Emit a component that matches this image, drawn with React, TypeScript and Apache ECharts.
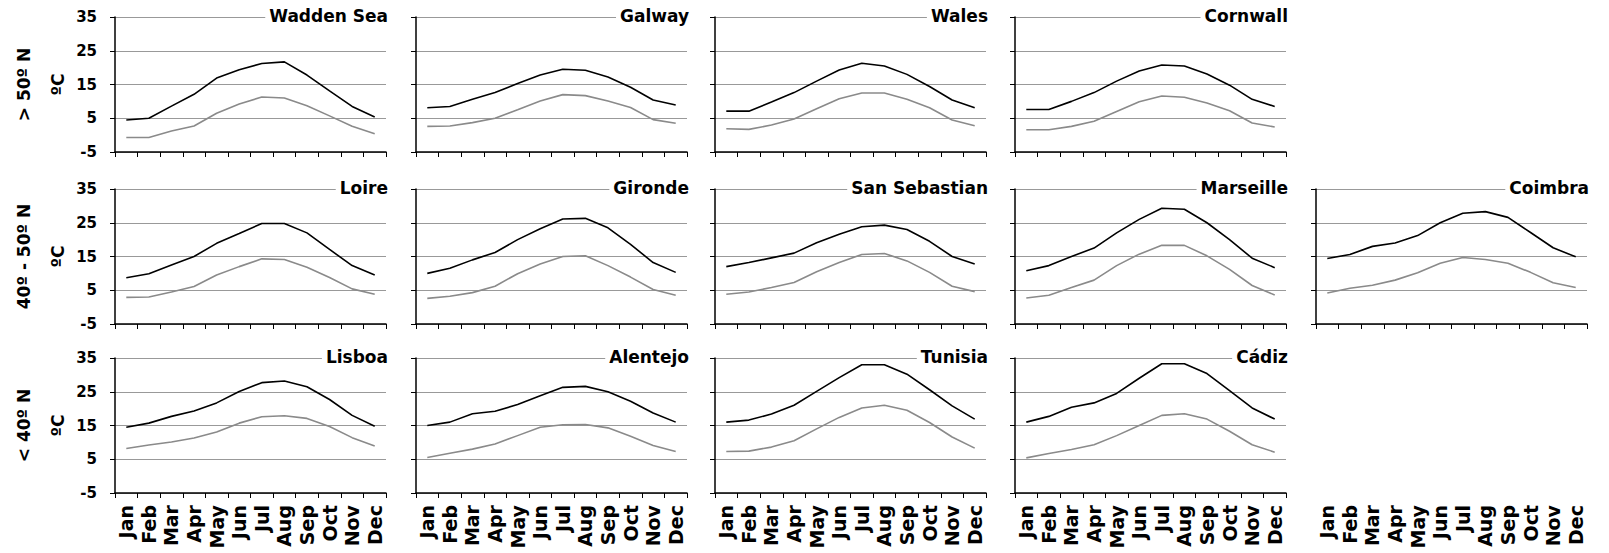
import React, { useEffect, useRef } from "react";
import * as echarts from "echarts";

// Monthly mean maximum (black) and minimum (grey) air temperatures, ºC
const months = ["Jan", "Feb", "Mar", "Apr", "May", "Jun", "Jul", "Aug", "Sep", "Oct", "Nov", "Dec"];
const yMin = -5;
const yMax = 35;
const yStep = 10;
const rowLabels = ["> 50º N", "40º - 50º N", "< 40º N"];
const unitLabel = "ºC";

const waddenSeaMax = [4.5, 5.0, 8.6, 12.1, 16.9, 19.4, 21.2, 21.7, 17.8, 13.1, 8.5, 5.4];
const waddenSeaMin = [-0.7, -0.7, 1.2, 2.7, 6.5, 9.2, 11.3, 11.0, 8.7, 5.7, 2.6, 0.4];
const galwayMax = [8.1, 8.5, 10.6, 12.6, 15.3, 17.8, 19.5, 19.2, 17.2, 14.2, 10.4, 8.9];
const galwayMin = [2.6, 2.7, 3.7, 5.0, 7.5, 10.1, 12.0, 11.7, 10.1, 8.2, 4.6, 3.5];
const walesMax = [7.1, 7.1, 9.8, 12.6, 16.0, 19.3, 21.3, 20.5, 18.0, 14.4, 10.4, 8.1];
const walesMin = [1.9, 1.7, 3.0, 4.8, 7.8, 10.8, 12.5, 12.5, 10.6, 8.1, 4.5, 2.8];
const cornwallMax = [7.6, 7.6, 10.0, 12.6, 16.0, 19.0, 20.8, 20.5, 18.1, 14.8, 10.6, 8.5];
const cornwallMin = [1.6, 1.6, 2.6, 4.1, 7.0, 9.9, 11.6, 11.2, 9.5, 7.2, 3.6, 2.4];

const loireMax = [8.7, 9.9, 12.5, 15.0, 18.9, 21.8, 24.8, 24.8, 22.0, 17.1, 12.3, 9.5];
const loireMin = [2.9, 3.0, 4.5, 6.1, 9.5, 12.0, 14.3, 14.1, 11.8, 8.8, 5.4, 3.8];
const girondeMax = [10.0, 11.5, 14.0, 16.2, 20.0, 23.2, 26.1, 26.3, 23.5, 18.6, 13.2, 10.3];
const girondeMin = [2.6, 3.2, 4.3, 6.2, 9.9, 12.8, 15.0, 15.2, 12.3, 8.9, 5.2, 3.5];
const sanSebastianMax = [12.0, 13.2, 14.6, 16.0, 19.1, 21.6, 23.8, 24.3, 23.0, 19.5, 15.0, 12.8];
const sanSebastianMin = [3.8, 4.5, 5.8, 7.3, 10.5, 13.2, 15.6, 15.9, 13.7, 10.3, 6.2, 4.6];
const marseilleMax = [10.8, 12.3, 15.0, 17.5, 22.0, 26.0, 29.3, 29.0, 25.0, 20.0, 14.5, 11.7];
const marseilleMin = [2.7, 3.5, 5.8, 8.0, 12.3, 15.7, 18.3, 18.3, 15.2, 11.2, 6.4, 3.6];
const coimbraMax = [14.4, 15.6, 18.0, 19.0, 21.2, 25.0, 27.8, 28.3, 26.6, 22.1, 17.6, 14.9];
const coimbraMin = [4.2, 5.6, 6.5, 8.0, 10.2, 13.0, 14.7, 14.1, 13.0, 10.3, 7.2, 5.8];

const lisboaMax = [14.5, 15.7, 17.7, 19.3, 21.7, 25.1, 27.7, 28.2, 26.5, 22.7, 18.0, 14.8];
const lisboaMin = [8.2, 9.2, 10.1, 11.3, 13.1, 15.7, 17.6, 17.9, 17.1, 14.7, 11.4, 8.9];
const alentejoMax = [15.0, 16.0, 18.5, 19.2, 21.2, 23.8, 26.3, 26.6, 25.0, 22.2, 18.7, 16.0];
const alentejoMin = [5.5, 6.8, 8.0, 9.5, 12.0, 14.5, 15.2, 15.3, 14.3, 11.8, 9.1, 7.3];
const tunisiaMax = [16.0, 16.6, 18.4, 21.0, 25.1, 29.2, 33.0, 33.0, 30.2, 25.6, 20.8, 16.9];
const tunisiaMin = [7.3, 7.4, 8.6, 10.5, 14.0, 17.4, 20.2, 21.0, 19.5, 15.9, 11.6, 8.3];
const cadizMax = [16.0, 17.7, 20.4, 21.7, 24.5, 29.0, 33.3, 33.3, 30.4, 25.3, 20.2, 16.9];
const cadizMin = [5.4, 6.7, 7.9, 9.3, 12.0, 15.0, 18.0, 18.5, 16.9, 13.3, 9.3, 7.1];

type Panel = { name: string; max: number[]; min: number[]; row: number; col: number };

const panels: Panel[] = [
  { name: "Wadden Sea", max: waddenSeaMax, min: waddenSeaMin, row: 0, col: 0 },
  { name: "Galway", max: galwayMax, min: galwayMin, row: 0, col: 1 },
  { name: "Wales", max: walesMax, min: walesMin, row: 0, col: 2 },
  { name: "Cornwall", max: cornwallMax, min: cornwallMin, row: 0, col: 3 },
  { name: "Loire", max: loireMax, min: loireMin, row: 1, col: 0 },
  { name: "Gironde", max: girondeMax, min: girondeMin, row: 1, col: 1 },
  { name: "San Sebastian", max: sanSebastianMax, min: sanSebastianMin, row: 1, col: 2 },
  { name: "Marseille", max: marseilleMax, min: marseilleMin, row: 1, col: 3 },
  { name: "Coimbra", max: coimbraMax, min: coimbraMin, row: 1, col: 4 },
  { name: "Lisboa", max: lisboaMax, min: lisboaMin, row: 2, col: 0 },
  { name: "Alentejo", max: alentejoMax, min: alentejoMin, row: 2, col: 1 },
  { name: "Tunisia", max: tunisiaMax, min: tunisiaMin, row: 2, col: 2 },
  { name: "Cádiz", max: cadizMax, min: cadizMin, row: 2, col: 3 },
];

const W = 1609;
const H = 553;
const colLeft = [115, 416, 715, 1015, 1316];
const rowTop = [17, 189, 358];
const plotW = 271;
const plotH = 135;
const FONT = '"DejaVu Sans", "Liberation Sans", Arial, sans-serif';

function buildOption() {
  const grids: any[] = [];
  const xAxes: any[] = [];
  const yAxes: any[] = [];
  const series: any[] = [];
  const titles: any[] = [];

  panels.forEach((p, i) => {
    grids.push({ left: colLeft[p.col], top: rowTop[p.row], width: plotW, height: plotH });
    xAxes.push({
      type: "category",
      gridIndex: i,
      data: months,
      boundaryGap: true,
      axisLine: { onZero: false, lineStyle: { color: "#000", width: 1.5 } },
      axisTick: { show: true, length: 5, lineStyle: { color: "#000", width: 1 } },
      axisLabel: {
        show: p.row === 2,
        interval: 0,
        rotate: 90,
        margin: 12,
        color: "#000",
        fontFamily: FONT,
        fontWeight: "bold",
        fontSize: 19,
      },
      splitLine: { show: false },
    });
    yAxes.push({
      type: "value",
      gridIndex: i,
      min: yMin,
      max: yMax,
      interval: yStep,
      axisLine: { show: true, onZero: false, lineStyle: { color: "#000", width: 1.5 } },
      axisTick: { show: true, length: 5, lineStyle: { color: "#000", width: 1 } },
      axisLabel: {
        show: p.col === 0,
        margin: 18,
        color: "#000",
        fontFamily: FONT,
        fontWeight: "bold",
        fontSize: 15,
      },
      splitLine: { show: true, lineStyle: { color: "#999", width: 1 } },
    });
    series.push({
      type: "line",
      name: p.name + " max",
      xAxisIndex: i,
      yAxisIndex: i,
      data: p.max,
      symbol: "none",
      silent: true,
      lineStyle: { color: "#000", width: 1.6 },
    });
    series.push({
      type: "line",
      name: p.name + " min",
      xAxisIndex: i,
      yAxisIndex: i,
      data: p.min,
      symbol: "none",
      silent: true,
      lineStyle: { color: "#8a8a8a", width: 1.6 },
    });
    titles.push({
      text: p.name,
      right: W - (colLeft[p.col] + plotW) - 2,
      top: rowTop[p.row] - 10,
      padding: [0, 0, 0, 4],
      backgroundColor: "#fff",
      textStyle: { fontFamily: FONT, fontWeight: "bold", fontSize: 17, color: "#000" },
    });
  });

  // Month labels under the empty bottom-right slot
  const idx = panels.length;
  grids.push({ left: colLeft[4], top: rowTop[2], width: plotW, height: plotH });
  xAxes.push({
    type: "category",
    gridIndex: idx,
    data: months,
    boundaryGap: true,
    axisLine: { show: false, onZero: false },
    axisTick: { show: false },
    axisLabel: {
      show: true,
      interval: 0,
      rotate: 90,
      margin: 12,
      color: "#000",
      fontFamily: FONT,
      fontWeight: "bold",
      fontSize: 19,
    },
    splitLine: { show: false },
  });
  yAxes.push({ type: "value", gridIndex: idx, min: yMin, max: yMax, show: false });

  const graphic: any[] = [];
  rowLabels.forEach((t, r) => {
    const cy = rowTop[r] + plotH / 2;
    graphic.push({
      type: "text",
      x: 24,
      y: cy,
      rotation: Math.PI / 2,
      style: {
        text: t,
        fill: "#000",
        font: `bold 17px ${FONT}`,
        align: "center",
        verticalAlign: "middle",
        textAlign: "center",
        textVerticalAlign: "middle",
      },
    });
    graphic.push({
      type: "text",
      x: 58,
      y: cy,
      rotation: Math.PI / 2,
      style: {
        text: unitLabel,
        fill: "#000",
        font: `bold 17px ${FONT}`,
        align: "center",
        verticalAlign: "middle",
        textAlign: "center",
        textVerticalAlign: "middle",
      },
    });
  });

  return {
    animation: false,
    backgroundColor: "#fff",
    title: titles,
    grid: grids,
    xAxis: xAxes,
    yAxis: yAxes,
    series,
    graphic,
  };
}

export default function App() {
  const ref = useRef<HTMLDivElement>(null);
  useEffect(() => {
    document.body.style.margin = "0";
    if (!ref.current) return;
    const chart = echarts.init(ref.current, undefined, { renderer: "svg" });
    chart.setOption(buildOption());
    return () => chart.dispose();
  }, []);
  return <div ref={ref} style={{ width: W, height: H }} />;
}
